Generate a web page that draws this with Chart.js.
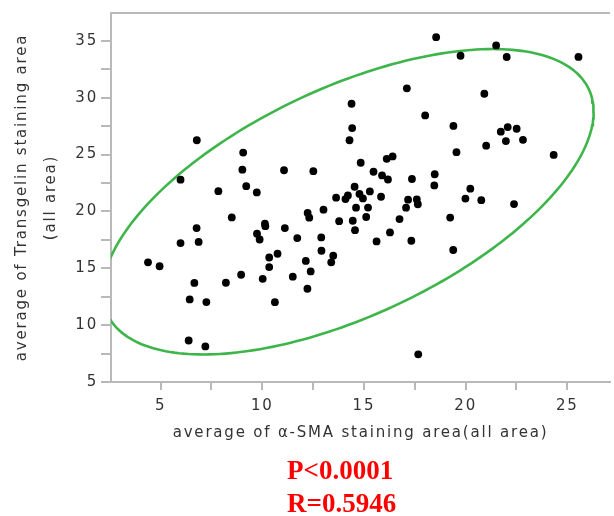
<!DOCTYPE html>
<html>
<head>
<meta charset="utf-8">
<script src="https://cdn.jsdelivr.net/npm/chart.js@4/dist/chart.umd.min.js"></script>
<style>
body { margin: 0; background: #fff; }
#wrap { position: relative; width: 614px; height: 516px; }
#stats { position: absolute; left: 287px; top: 454px; font: bold 27px 'Liberation Serif', 'Times New Roman', serif; line-height: 33px; color: #ff0000; }
</style>
</head>
<body>
<div id="wrap">
  <canvas id="chart" width="614" height="516"></canvas>
  <div id="stats"><div>P&lt;0.0001</div><div>R=0.5946</div></div>
</div>
<script>
// average a-SMA staining area per sample
const smaArea = [
  4.38, 4.95, 5.98, 6.78, 5.98, 6.77, 6.87, 6.66, 6.43, 7.25,
  6.38, 7.20, 7.84, 8.50, 8.21, 9.06, 9.02, 9.21, 9.73, 8.96,
  9.74, 9.87, 10.13, 10.15, 10.34, 10.75, 10.34, 10.02, 10.62, 11.07,
  11.11, 11.72, 12.23, 12.31, 13.01, 12.51, 12.90, 12.91, 12.14, 12.38,
  11.50, 12.22, 13.49, 13.39, 13.63, 14.09, 14.21, 13.78, 14.45, 14.56,
  14.61, 14.54, 14.78, 14.95, 15.29, 15.20, 15.11, 15.84, 14.84, 15.47,
  15.89, 16.18, 16.12, 16.41, 14.29, 14.42, 14.39,
  17.11, 18.01, 17.36, 17.17, 17.60, 17.65, 17.07, 16.75, 16.28, 15.62,
  17.33, 17.67, 18.48, 18.46, 18.55, 19.75, 21.50, 22.02, 25.55, 20.92,
  19.40, 19.55, 21.01, 21.73, 22.07, 22.51, 21.98, 22.82, 24.33, 20.23,
  19.99, 20.77, 22.38, 19.24, 19.39
];
// average Transgelin staining area per sample
const transgelinArea = [
  15.52, 15.18, 22.79, 26.26, 17.22, 18.54, 17.32, 13.71, 12.26, 12.03,
  8.65, 8.13, 21.78, 19.47, 13.73, 25.18, 23.67, 22.22, 21.67, 14.43,
  18.04, 17.53, 18.92, 18.70, 15.95, 16.28, 15.11, 14.07, 12.02, 23.62,
  18.54, 17.66, 19.86, 19.45, 20.15, 23.54, 17.71, 16.54, 15.65, 14.72,
  14.26, 13.20, 16.11, 15.52, 21.21, 21.09, 21.41, 19.14, 19.18, 18.35,
  20.33, 22.17, 21.54, 21.14, 21.76, 20.34, 19.51, 21.29, 24.28, 23.49,
  23.17, 22.81, 24.63, 24.84, 26.26, 27.33, 29.47,
  30.83, 28.44, 22.85, 21.03, 21.06, 20.63, 20.33, 19.33, 18.15, 17.36,
  17.42, 7.43, 23.27, 22.29, 35.32, 33.69, 34.60, 33.58, 33.59, 30.35,
  27.52, 25.21, 25.78, 27.01, 27.42, 27.27, 26.19, 26.30, 24.97, 22.00,
  21.13, 20.99, 20.65, 19.46, 16.61
];

const xTickLabels = [5, 10, 15, 20, 25];
const yTickLabels = [5, 10, 15, 20, 25, 30, 35];

// density ellipse (centre + covariance, data units)
const ellipseCenter = [14.22, 20.85];
const ellipseVarX = 145.8;
const ellipseVarY = 180.3;
const ellipseCovXY = 95.6;

const axisGrey = '#b9b9b9';
const textGrey = '#333333';

function ellipsePoints() {
  const l11 = Math.sqrt(ellipseVarX);
  const l21 = ellipseCovXY / l11;
  const l22 = Math.sqrt(ellipseVarY - l21 * l21);
  const pts = [];
  for (let i = 0; i <= 240; i++) {
    const t = i / 240 * Math.PI * 2;
    const c = Math.cos(t), s = Math.sin(t);
    pts.push({ x: ellipseCenter[0] + l11 * c, y: ellipseCenter[1] + l21 * c + l22 * s });
  }
  return pts;
}

// tick every 2.5 inside the range, labels only on the listed values
function stepTicks(scale) {
  const out = [];
  for (let k = Math.ceil(scale.min / 2.5 - 1e-9); k * 2.5 <= scale.max + 1e-9; k++) {
    out.push({ value: k * 2.5 });
  }
  scale.ticks = out;
}

function labelFor(list) {
  return v => list.includes(v) ? String(v) : '';
}

const spacing = {
  id: 'spacing',
  beforeUpdate(chart) { chart.ctx.letterSpacing = '1.8px'; },
  beforeDraw(chart) { chart.ctx.letterSpacing = '1.8px'; },
  afterDraw(chart) {
    // top frame line
    const { ctx, chartArea } = chart;
    ctx.save();
    ctx.strokeStyle = axisGrey;
    ctx.lineWidth = 2;
    ctx.beginPath();
    ctx.moveTo(chartArea.left - 1, chartArea.top);
    ctx.lineTo(chartArea.right, chartArea.top);
    ctx.stroke();
    ctx.restore();
  }
};

const points = smaArea.map((x, i) => ({ x: x, y: transgelinArea[i] }));

new Chart(document.getElementById('chart'), {
  type: 'scatter',
  data: {
    datasets: [
      {
        data: points,
        backgroundColor: '#000',
        borderColor: '#000',
        pointRadius: 3.9,
        borderWidth: 0
      },
      {
        data: ellipsePoints(),
        showLine: true,
        borderColor: '#3db54a',
        borderWidth: 2.6,
        pointRadius: 0,
        fill: false,
        tension: 0,
        clip: 0
      }
    ]
  },
  options: {
    responsive: false,
    animation: false,
    layout: { padding: { top: 13, right: 0, bottom: 74, left: 0 } },
    plugins: { legend: { display: false }, tooltip: { enabled: false } },
    scales: {
      x: {
        type: 'linear',
        min: 2.56,
        max: 27.1,
        afterBuildTicks: stepTicks,
        afterFit(scale) { scale.height = 60; },
        ticks: {
          autoSkip: false,
          maxRotation: 0,
          padding: 7,
          color: textGrey,
          font: { family: 'DejaVu Sans', size: 15 },
          callback: labelFor(xTickLabels)
        },
        grid: { drawOnChartArea: false, drawTicks: true, tickLength: 8, color: axisGrey, lineWidth: 2 },
        border: { color: axisGrey, width: 2 },
        title: {
          display: true,
          text: 'average of \u03b1-SMA staining area(all area)',
          color: textGrey,
          font: { family: 'DejaVu Sans', size: 15 },
          padding: { top: 0, bottom: 0 }
        }
      },
      y: {
        type: 'linear',
        min: 5,
        max: 37.45,
        afterBuildTicks: stepTicks,
        afterFit(scale) { scale.width = 111; },
        ticks: {
          autoSkip: false,
          padding: 3,
          color: textGrey,
          font: { family: 'DejaVu Sans', size: 15 },
          callback: labelFor(yTickLabels)
        },
        grid: { drawOnChartArea: false, drawTicks: true, tickLength: 10, color: axisGrey, lineWidth: 2 },
        border: { color: axisGrey, width: 2 },
        title: {
          display: true,
          text: ['average of Transgelin staining area', '(all area)'],
          color: textGrey,
          font: { family: 'DejaVu Sans', size: 15, lineHeight: '29px' },
          padding: { top: 8, bottom: 0 }
        }
      }
    }
  },
  plugins: [spacing]
});
</script>
</body>
</html>
